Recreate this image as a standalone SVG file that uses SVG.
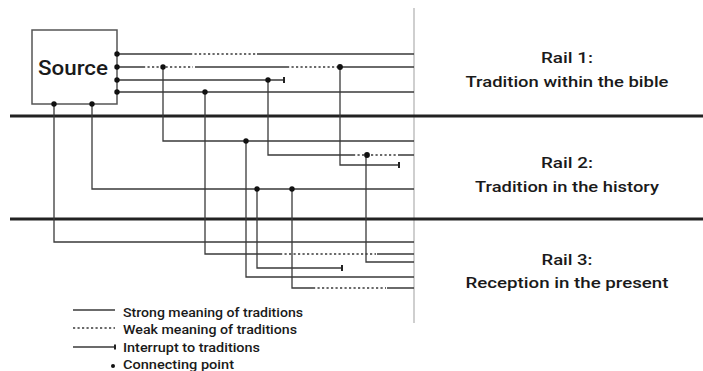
<svg xmlns="http://www.w3.org/2000/svg" width="703" height="371" viewBox="0 0 703 371">
<style>
.t{font-family:Roboto,"Liberation Sans",Arial,sans-serif;font-weight:500;fill:#1a1a1a}
.c{fill:none;stroke:#3a3a3a;stroke-width:1.3}
.d{fill:none;stroke:#3a3a3a;stroke-width:1.3;stroke-dasharray:2.2 2.3}
.rail{stroke:#222;stroke-width:2.8}
.tick{stroke:#222;stroke-width:2}
.dot{fill:#111}
</style>
<rect width="703" height="371" fill="#fff"/>
<g id="divider"><line x1="414" y1="8" x2="414" y2="323" stroke="#cfcfcf" stroke-width="2"/></g>
<g id="rails">
<line class="rail" x1="10" y1="116" x2="703" y2="116"/>
<line class="rail" x1="10" y1="219" x2="703" y2="219"/>
</g>
<g id="rail1"><text class="t" x="567" y="63" font-size="15.5" text-anchor="middle" textLength="52" lengthAdjust="spacingAndGlyphs">Rail 1:</text><text class="t" x="567" y="87" font-size="15.5" text-anchor="middle" textLength="203" lengthAdjust="spacingAndGlyphs">Tradition within the bible</text></g>
<g id="rail2"><text class="t" x="567" y="168" font-size="15.5" text-anchor="middle" textLength="52" lengthAdjust="spacingAndGlyphs">Rail 2:</text><text class="t" x="567" y="192" font-size="15.5" text-anchor="middle" textLength="184" lengthAdjust="spacingAndGlyphs">Tradition in the history</text></g>
<g id="rail3"><text class="t" x="567" y="265" font-size="15.5" text-anchor="middle" textLength="51" lengthAdjust="spacingAndGlyphs">Rail 3:</text><text class="t" x="567" y="288" font-size="15.5" text-anchor="middle" textLength="203" lengthAdjust="spacingAndGlyphs">Reception in the present</text></g>
<g id="source">
<rect x="32" y="30" width="85" height="74" fill="#fff" stroke="#555" stroke-width="1.5"/>
<text class="t" x="38" y="75" font-size="21" font-weight="400" textLength="70" lengthAdjust="spacingAndGlyphs">Source</text>
</g>
<g id="connectors">
<path class="c" d="M117 54H190M257 54H414"/><path class="d" d="M190 54H257"/>
<path class="c" d="M117 67H143M195 67H287M340 67H414"/><path class="d" d="M143 67H193M287 67H338"/>
<path class="c" d="M117 80H284"/><line class="tick" x1="284" y1="77" x2="284" y2="83"/>
<path class="c" d="M117 92H414"/>
<path class="c" d="M54 104V242H414"/>
<path class="c" d="M92 104V189H414"/>
<path class="c" d="M163 67V141H414"/>
<path class="c" d="M205 92V254H280M377 254H414"/><path class="d" d="M280 254H376"/>
<path class="c" d="M246 141V277H414"/>
<path class="c" d="M257 189V268H342"/><line class="tick" x1="342" y1="265" x2="342" y2="271"/>
<path class="c" d="M268 80V155H353M398 155H414"/><path class="d" d="M353 155H397"/>
<path class="c" d="M292 189V288H313M387 288H414"/><path class="d" d="M313 288H386"/>
<path class="c" d="M340 67V165H399"/><line class="tick" x1="399" y1="162" x2="399" y2="168"/>
<path class="c" d="M366 155V262H414"/>
</g>
<g id="points">
<circle class="dot" cx="117" cy="54" r="2.7"/><circle class="dot" cx="117" cy="67" r="2.7"/><circle class="dot" cx="117" cy="80" r="2.7"/><circle class="dot" cx="117" cy="92" r="2.7"/>
<circle class="dot" cx="54" cy="104" r="2.7"/><circle class="dot" cx="92" cy="104" r="2.7"/>
<circle class="dot" cx="163" cy="67" r="2.7"/><circle class="dot" cx="340" cy="67" r="2.9"/><circle class="dot" cx="268" cy="80" r="2.7"/><circle class="dot" cx="205" cy="92" r="2.7"/>
<circle class="dot" cx="246" cy="141" r="2.7"/><circle class="dot" cx="367" cy="155" r="2.9"/><circle class="dot" cx="257" cy="189" r="2.7"/><circle class="dot" cx="292" cy="189" r="2.7"/>
</g>
<g id="legend">
<path class="c" d="M73 310H115"/>
<path class="d" d="M73 328H115"/>
<path class="c" d="M73 347H115"/><line class="tick" x1="115" y1="344.5" x2="115" y2="349.5"/>
<circle class="dot" cx="113" cy="366" r="2"/>
<text class="t" x="123" y="317" font-size="13" textLength="180" lengthAdjust="spacingAndGlyphs">Strong meaning of traditions</text>
<text class="t" x="123" y="334" font-size="13" textLength="174" lengthAdjust="spacingAndGlyphs">Weak meaning of traditions</text>
<text class="t" x="123" y="352" font-size="13" textLength="137" lengthAdjust="spacingAndGlyphs">Interrupt to traditions</text>
<text class="t" x="123" y="369" font-size="13" textLength="111" lengthAdjust="spacingAndGlyphs">Connecting point</text>
</g>
</svg>
